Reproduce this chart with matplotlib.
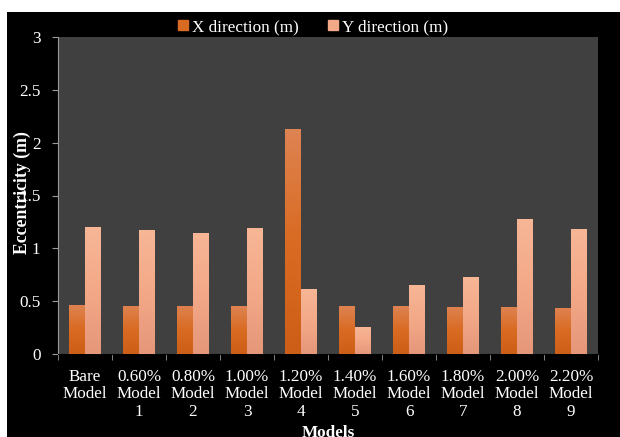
import matplotlib
matplotlib.use("Agg")
import matplotlib.pyplot as plt
import matplotlib.colors as mcolors
from matplotlib.patches import Rectangle
from matplotlib.lines import Line2D
import numpy as np

# Eccentricity per model (m)
models = ["Bare\nModel", "0.60%\nModel\n1", "0.80%\nModel\n2", "1.00%\nModel\n3",
          "1.20%\nModel\n4", "1.40%\nModel\n5", "1.60%\nModel\n6", "1.80%\nModel\n7",
          "2.00%\nModel\n8", "2.20%\nModel\n9"]
x_dir = [0.465, 0.456, 0.456, 0.45, 2.13, 0.454, 0.454, 0.445, 0.445, 0.44]
y_dir = [1.20, 1.175, 1.146, 1.19, 0.614, 0.26, 0.65, 0.73, 1.28, 1.18]
y_ticks = [0, 0.5, 1, 1.5, 2, 2.5, 3]

plt.rcParams["font.family"] = ["Liberation Serif", "DejaVu Serif"]
fs = 12.3

fig = plt.figure(figsize=(6.2, 4.37), dpi=100, facecolor="white")
# black chart area with a thin white margin on top and left
fig.patches.append(Rectangle((7 / 620, 0), 1, 1 - 12 / 437, transform=fig.transFigure,
                             facecolor="black", edgecolor="none", zorder=-10))

ax = fig.add_axes([58 / 620, 1 - 354 / 437, 540 / 620, 317 / 437])
ax.set_facecolor("#404040")

pos = np.arange(len(models))
w = 0.295
bx = ax.bar(pos - w / 2, x_dir, w, color="#D86A22", zorder=2)
by = ax.bar(pos + w / 2, y_dir, w, color="#F3A988", zorder=2)

# vertical gradient fill on each bar
grad = np.linspace(0, 1, 64).reshape(-1, 1)
cm_x = mcolors.LinearSegmentedColormap.from_list("gx", ["#CC5E17", "#D96B22", "#DE8352"])
cm_y = mcolors.LinearSegmentedColormap.from_list("gy", ["#E6977A", "#F3A988", "#F7B696"])
for bars, cm in ((bx, cm_x), (by, cm_y)):
    for b in bars:
        x0, y0 = b.get_x(), b.get_y()
        im = ax.imshow(grad, cmap=cm, aspect="auto", origin="lower",
                       extent=(x0, x0 + b.get_width(), y0, y0 + b.get_height()), zorder=3)
        im.set_clip_path(b)

ax.set_xlim(-0.5, len(models) - 0.5)
ax.set_ylim(0, 3)

ax.set_yticks(y_ticks)
ax.set_yticklabels(["0", "0.5", "1", "1.5", "2", "2.5", "3"])
ax.set_xticks(pos)
ax.set_xticklabels(models, linespacing=1.1)
ax.set_xticks(np.arange(-0.5, len(models)), minor=True)
ax.tick_params(axis="x", which="major", length=0, pad=11, colors="white", labelsize=fs)
ax.tick_params(axis="x", which="minor", length=4, color="#9a9a9a")
ax.tick_params(axis="y", length=4.5, color="#9a9a9a", colors="white", labelsize=fs, pad=8)
for sp in ("top", "right"):
    ax.spines[sp].set_visible(False)
ax.spines["left"].set_color("#9a9a9a")
ax.spines["bottom"].set_color("black")

fig.text(22 / 620, 1 - 193 / 437, "Eccentricity (m)", rotation=90, color="white",
         fontsize=12.8, fontweight="bold", ha="center", va="center")
fig.text(328 / 620, 1 - 433 / 437, "Models", color="white", fontsize=fs,
         fontweight="bold", ha="center", va="center")

# square legend keys
keys = [Line2D([], [], marker="s", linestyle="none", markersize=6.5,
               markerfacecolor="#D86A22", markeredgecolor="#D86A22"),
        Line2D([], [], marker="s", linestyle="none", markersize=6.5,
               markerfacecolor="#F3A988", markeredgecolor="#F3A988")]
fig.legend(keys, ["X direction (m)", "Y direction (m)"], loc="center",
           bbox_to_anchor=(313 / 620, 1 - 27 / 437), ncol=2, frameon=False,
           fontsize=fs, labelcolor="white", handlelength=0.6, handletextpad=0.25,
           columnspacing=1.7)

fig.savefig("out.png", dpi=100, facecolor="white")
